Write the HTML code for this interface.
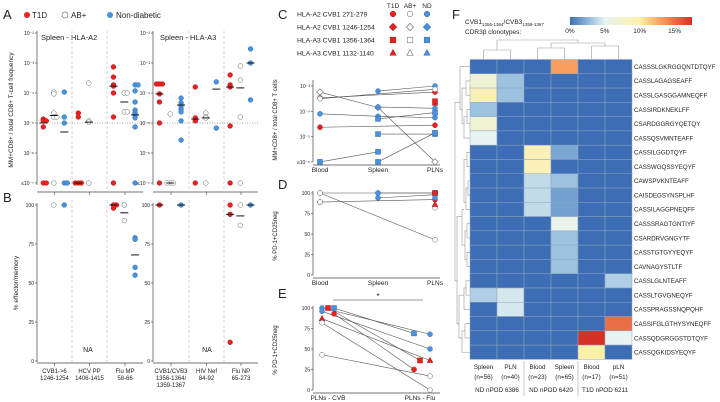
<!DOCTYPE html>
<html><head><meta charset="utf-8"><style>
body{margin:0;background:#fff}
svg{display:block;font-family:"Liberation Sans",sans-serif}
</style></head><body>
<svg id="fig" width="720" height="402" viewBox="0 0 720 402" xmlns="http://www.w3.org/2000/svg">
<g id="static" font-size="7" fill="#222">
<text x="3" y="19" font-size="13">A</text>
<text x="3" y="202" font-size="13">B</text>
<text x="278" y="19" font-size="13">C</text>
<text x="278" y="189" font-size="13">D</text>
<text x="278" y="298" font-size="13">E</text>
<text x="452" y="19" font-size="13">F</text>
<g font-size="8">
<circle cx="27" cy="15" r="3" fill="#e8231f"/><text x="32" y="18">T1D</text>
<circle cx="65" cy="15" r="3" fill="#fff" stroke="#777" stroke-width="0.7"/><text x="71" y="18">AB+</text>
<circle cx="110" cy="15" r="3" fill="#4a92dc"/><text x="116" y="18">Non-diabetic</text>
</g>
<text x="41" y="40" font-size="7.5">Spleen - HLA-A2</text>
<text x="160" y="40" font-size="7.5">Spleen - HLA-A3</text>
<text transform="translate(13,110) rotate(-90)" text-anchor="middle" font-size="6.5">MM+CD8+ / total CD8+ T-cell frequency</text>
<text transform="translate(18,283) rotate(-90)" text-anchor="middle" font-size="6.5">% effector/memory</text>
<text x="88" y="352" text-anchor="middle" font-size="7">NA</text>
<text x="207" y="352" text-anchor="middle" font-size="7">NA</text>
<text transform="translate(277,120) rotate(-90)" text-anchor="middle" font-size="6">MM+CD8+ / total CD8+ T cells</text>
<text transform="translate(277,236) rotate(-90)" text-anchor="middle" font-size="6">% PD-1+CD25neg</text>
<text transform="translate(277,350) rotate(-90)" text-anchor="middle" font-size="6">% PD-1+CD25neg</text>
<text x="465" y="24" font-size="6.5">CVB1<tspan font-size="4.5" dy="2">1356-1364</tspan><tspan dy="-2">/CVB3</tspan><tspan font-size="4.5" dy="2">1359-1367</tspan></text>
<text x="465" y="34" font-size="6.5">CDR3β clonotypes:</text>
</g>
<g id="dyn"></g>
</svg>
<script>
// ---------- Panel A data (log10 exponents; -7 = ≤10^-7) ----------
const aGroups = ["T1D","AB+","ND"];
const a2Values = [
 [[-4.87,-4.93,-4.93,-5.13,-7,-7],[-3.97,-4.03,-4.67,-4.8,-4.8,-7],[-3.97,-4.8,-5.0,-7,-7]],
 [[-4.67,-4.8,-7,-7,-7],[-3.67,-4.93,-4.97,-7],[]],
 [[-3.13,-3.47,-3.73,-3.77,-4.0,-4.8,-7],[-4.0,-4.0,-4.63,-4.63],[-3.73,-3.73,-3.93,-4.3,-4.57,-4.67,-4.73,-4.83,-5.13,-7]]
];
const a2Medians = [[-5.0,-4.75,-5.3],[-7,-4.97,null],[-3.77,-4.3,-4.73]];
const a3Values = [
 [[-3.7,-3.7,-3.7,-4.03,-4.3,-5.0,-7],[-4.7,-7,-7,-7],[-4.17,-4.33,-4.43,-4.53,-4.63,-4.93,-5.57]],
 [[-3.8,-4.83,-4.93,-7],[-4.67,-4.8,-4.83,-7],[-3.63,-5.17]],
 [[-3.4,-3.73,-3.8,-5.1,-7],[-3.1,-3.57,-4.8,-7],[-2.53,-3.0,-4.23]]
];
const a3Medians = [[-4.03,-7,-4.4],[-4.87,-4.83,-3.87],[-3.8,-3.83,-3.0]];
const aTickLabels = ["10⁻²","10⁻³","10⁻⁴","10⁻⁵","10⁻⁶","≤10⁻⁷"];
const aTickValues = [-2,-3,-4,-5,-6,-7];
// ---------- Panel B data (%) ----------
const b2Values = [[[],[100],[100]],[[],[],[]],[[100,100,98],[100,90],[79,78,60,55]]];
const b2Medians = [[null,null,null],[null,null,null],[100,95,68]];
const b3Values = [[[100],[],[100]],[[],[],[]],[[100,94,12],[100,87],[100]]];
const b3Medians = [[100,null,100],[null,null,null],[94,93,100]];
const bTicks = [0,25,50,75,100];
const b2Cats = [["CVB1->6","1246-1254"],["HCV PP","1406-1415"],["Flu MP","58-66"]];
const b3Cats = [["CVB1/CVB3","1356-1364/","1359-1367"],["HIV Nef","84-92"],["Flu NP","65-273"]];
// ---------- Panel C data (log10 exponents; Blood, Spleen, PLNs) ----------
const cCats = ["Blood","Spleen","PLNs"];
const cSeries = [
 {g:"ND",s:"circle",v:[null,-3.2,-3.0]},
 {g:"T1D",s:"circle",v:[-3.47,null,-3.24]},
 {g:"AB+",s:"diamond",v:[-3.24,-3.85,-6]},
 {g:"AB+",s:"circle",v:[-3.5,null,-3.13]},
 {g:"ND",s:"circle",v:[null,-3.83,-3.88]},
 {g:"ND",s:"circle",v:[-4.1,-4.2,-4.25]},
 {g:"T1D",s:"circle",v:[-4.63,null,-4.55]},
 {g:"ND",s:"square",v:[null,-4.9,-4.9]},
 {g:"ND",s:"square",v:[-6,-5.6,null]},
 {g:"ND",s:"square",v:[null,-6,-4.85]},
 {g:"ND",s:"square",v:[null,-4.3,-4.05]},
 {g:"T1D",s:"triangle",v:[null,null,-3.68]},
 {g:"T1D",s:"square",v:[null,null,-3.6]}
];
const cTickLabels = ["10⁻³","10⁻⁴","10⁻⁵","≤10⁻⁶"];
const cTickValues = [-3,-4,-5,-6];
// ---------- Panel D data (%) ----------
const dSeries = [
 {g:"ND",s:"circle",v:[100,100,100]},
 {g:"AB+",s:"circle",v:[100,null,43]},
 {g:"ND",s:"circle",v:[null,100,100]},
 {g:"T1D",s:"circle",v:[89,null,92]},
 {g:"AB+",s:"circle",v:[89,null,null]},
 {g:"ND",s:"circle",v:[null,94,98]},
 {g:"ND",s:"square",v:[null,null,100]},
 {g:"T1D",s:"square",v:[null,null,100]},
 {g:"ND",s:"circle",v:[null,null,94]},
 {g:"AB+",s:"circle",v:[null,null,82]},
 {g:"T1D",s:"triangle",v:[null,null,86]}
];
// ---------- Panel E data (%) ----------
const eCats = ["PLNs - CVB","PLNs - Flu"];
const eSeries = [
 {g:"ND",s:"circle",v:[100,68]},
 {g:"ND",s:"circle",v:[96,50]},
 {g:"ND",s:"square",v:[100,69]},
 {g:"T1D",s:"square",v:[100,36]},
 {g:"T1D",s:"circle",v:[93,25]},
 {g:"T1D",s:"triangle",v:[87,36]},
 {g:"AB+",s:"circle",v:[82,0]},
 {g:"AB+",s:"circle",v:[43,17]}
];
const eOffsets = [[-6,10],[-6,10],[6,-6],[0,0],[6,-6],[-6,10],[-6,10],[-6,10]];
// ---------- Panel F heatmap (% of clonotype) ----------
const fRows = ["CASSSLGKRGGQNTDTQYF","CASSLAGAGSEAFF","CASSLGASGGAMNEQFF","CASSIRDKNEKLFF","CSARDGGRGYQETQY","CASSQSVMNTEAFF","CASSILGGDTQYF","CASSWGQSSYEQYF","CAWSPVKNTEAFF","CAISDEGSYNSPLHF","CASSILAGGPNEQFF","CASSSRAGTGNTIYF","CSARDRVGNGYTF","CASSTGTGYYEQYF","CAVNAGYSTLTF","CASSLGLNTEAFF","CASSLTGVGNEQYF","CASSPRAGSSNQPQHF","CASSIFGLGTHYSYNEQFF","CASSQDGRGGSTDTQYF","CASSQGKIDSYEQYF"];
const fCols = [["Spleen","(n=56)"],["PLN","(n=40)"],["Blood","(n=23)"],["Spleen","(n=65)"],["Blood","(n=17)"],["pLN","(n=51)"]];
const fDonors = ["ND nPOD 6386","ND nPOD 6420","T1D nPOD 6211"];
const fValues = [
 [0,0,0,13,0,0],[7,3,0,0,0,0],[9,3,0,0,0,0],[3,0,0,0,0,0],[7,0,0,0,0,0],[5,0,0,0,0,0],
 [0,0,9,2,0,0],[0,0,9,0,0,0],[0,0,4,3,0,0],[0,0,4,1.8,0,0],[0,0,4,1.8,0,0],[0,0,0,5.5,0,0],
 [0,0,0,3,0,0],[0,0,0,3,0,0],[0,0,0,3,0,0],[0,0,0,0,0,3.5],[3.5,4.5,0,0,0,0],[0,4.5,0,0,0,0],
 [0,0,0,0,0,15],[0,0,0,0,18,5],[0,0,0,0,10,0]
];
const fScaleTicks = [0,5,10,15];

const NS="http://www.w3.org/2000/svg";
const root=document.getElementById('dyn');
function mk(tag,attrs,parent){const e=document.createElementNS(NS,tag);for(const k in attrs)e.setAttribute(k,attrs[k]);(parent||root).appendChild(e);return e;}
function txt(x,y,s,attrs,parent){const e=mk('text',Object.assign({x:x,y:y,'font-size':6.5,fill:'#222'},attrs||{}),parent);e.textContent=s;return e;}
const COL={"T1D":"#e8231f","AB+":"#ffffff","ND":"#4a92dc"};
const STR={"T1D":"#b01010","AB+":"#666","ND":"#2f6fb0"};
function sym(shape,g,x,y,r){
 let e;const f=COL[g],st=STR[g];
 if(shape==="circle")e=mk('circle',{cx:x,cy:y,r:r,fill:f,stroke:st,'stroke-width':0.5});
 else if(shape==="square")e=mk('rect',{x:x-r,y:y-r,width:2*r,height:2*r,fill:f,stroke:st,'stroke-width':0.5});
 else if(shape==="diamond")e=mk('polygon',{points:`${x},${y-r*1.3} ${x+r*1.3},${y} ${x},${y+r*1.3} ${x-r*1.3},${y}`,fill:f,stroke:st,'stroke-width':0.6});
 else e=mk('polygon',{points:`${x},${y-r*1.2} ${x+r*1.1},${y+r*0.8} ${x-r*1.1},${y+r*0.8}`,fill:f,stroke:st,'stroke-width':0.6});
 return e;
}
function yA(e){return 33+(-2-e)*30;}
function yB(v){return 361-v*1.56;}
function dotPanel(ax,sepX,endX,values,medians,yf,isA,tickLabels,tickVals,catLabels){
 mk('line',{x1:ax,y1:isA?31:203,x2:ax,y2:isA?185:362,stroke:'#444','stroke-width':0.7});
 mk('line',{x1:ax,y1:isA?192:363,x2:endX,y2:isA?192:363,stroke:'#444','stroke-width':0.7});
 sepX.forEach(sx=>mk('line',{x1:sx,y1:isA?31:200,x2:sx,y2:isA?192:363,stroke:'#bbb','stroke-width':0.6,'stroke-dasharray':'3,2'}));
 tickVals.forEach((t,i)=>{const y=yf(t);mk('line',{x1:ax-2,y1:y,x2:ax,y2:y,stroke:'#444','stroke-width':0.6});
   const l=txt(ax-3,y+2,tickLabels[i],{'text-anchor':'end','font-size':5});
   });
 const bounds=[ax].concat(sepX).concat([endX]);
 for(let c=0;c<3;c++){
  const x0=bounds[c],w=bounds[c+1]-x0;
  mk('line',{x1:x0+w/2,y1:isA?192:363,x2:x0+w/2,y2:isA?195:366,stroke:'#444','stroke-width':0.6});
  if(catLabels)catLabels[c].forEach((s,k)=>{const l=txt(x0+w/2,373+k*7,s,{'text-anchor':'middle','font-size':6});
    });
  for(let g=0;g<3;g++){
   const cx=x0+w*(0.18+0.3*g);const vals=values[c][g];const cnt={};
   vals.forEach(v=>{const key=v.toFixed(2);cnt[key]=(cnt[key]||0);const off=(cnt[key]%2?1:-1)*Math.ceil(cnt[key]/2)*3;cnt[key]++;
    const d=sym('circle',aGroups[g],cx+off,yf(v),2.4);
     });
   const m=medians[c][g];
   if(m!==null){const ml=mk('line',{x1:cx-4,y1:yf(m),x2:cx+4,y2:yf(m),stroke:'#111','stroke-width':1});
     }
  }
 }
}
dotPanel(37,[72,107],143,a2Values,a2Medians,yA,true,aTickLabels,aTickValues,null);
dotPanel(153,[189,224],258,a3Values,a3Medians,yA,true,aTickLabels,aTickValues,null);
mk('line',{x1:37,y1:yA(-5),x2:258,y2:yA(-5),stroke:'#555','stroke-width':0.6,'stroke-dasharray':'1,1.5'});
dotPanel(37,[72,107],143,b2Values,b2Medians,yB,false,bTicks.map(String),bTicks,b2Cats);
dotPanel(153,[189,224],258,b3Values,b3Medians,yB,false,bTicks.map(String),bTicks,b3Cats);
const legRows=[["HLA-A2 CVB1 271-279","circle"],["HLA-A2 CVB1 1246-1254","diamond"],["HLA-A3 CVB1 1356-1364","square"],["HLA-A3 CVB1 1132-1140","triangle"]];
["T1D","AB+","ND"].forEach((g,j)=>{const l=txt(393+j*17,8,g,{'text-anchor':'middle','font-size':6.5});});
legRows.forEach((r,i)=>{const y=14+i*13;const l=txt(297,y+2.5,r[0],{'font-size':6.8});
 
 ["T1D","AB+","ND"].forEach((g,j)=>sym(r[1],g,393+j*17,y,2.8));});
const cx3=[320,378,435];
function yC(e){return 86+(-3-e)*25.3;}
function yD(v){return 275-v*0.82;}
function yE(v){return 390-v*0.82;}
function linePanel(yf,top,bottom,ticks,tickLabels,series,xs,labels,name){
 mk('line',{x1:313,y1:top,x2:313,y2:bottom,stroke:'#444','stroke-width':0.7});
 mk('line',{x1:313,y1:bottom+3,x2:440,y2:bottom+3,stroke:'#444','stroke-width':0.7});
 ticks.forEach((t,i)=>{const y=yf(t);mk('line',{x1:311,y1:y,x2:313,y2:y,stroke:'#444','stroke-width':0.6});
  const l=txt(310,y+2,tickLabels[i],{'text-anchor':'end','font-size':5});});
 labels.forEach((s,i)=>{const l=txt(xs[i],bottom+10,s,{'text-anchor':'middle','font-size':6.5});});
 series.forEach((s,si)=>{const pts=[];s.v.forEach((v,i)=>{if(v!==null)pts.push([xs[i]+(s.off?s.off[i]:0),yf(v)]);});
  if(pts.length>1){const p=mk('polyline',{points:pts.map(p=>p.join(',')).join(' '),fill:'none',stroke:'#555','stroke-width':0.6});
   }
 });
 series.forEach(s=>{s.v.forEach((v,i)=>{if(v!==null){const d=sym(s.s,s.g,xs[i]+(s.off?s.off[i]:0),yf(v),2.5);
   }});});
}
linePanel(yC,80,162,cTickValues,cTickLabels,cSeries,cx3,cCats,'c');
linePanel(yD,191,275,bTicks,bTicks.map(String),dSeries,cx3,cCats,'d');
eSeries.forEach((s,i)=>s.off=eOffsets[i]);
linePanel(yE,306,390,bTicks,bTicks.map(String),eSeries,[328,420],eCats,'e');
const sig=mk('line',{x1:333,y1:300,x2:423,y2:300,stroke:'#333','stroke-width':0.6});

const star=txt(378,299,'*',{'text-anchor':'middle','font-size':8});
const stops=[[0,[61,109,180]],[2.5,[137,182,219]],[5,[232,244,242]],[10,[253,240,168]],[13,[249,160,96]],[17.5,[215,48,39]]];
function colorOf(v){if(v>=17.5)v=17.5;for(let i=1;i<stops.length;i++){if(v<=stops[i][0]){const a=stops[i-1],b=stops[i],t=(v-a[0])/(b[0]-a[0]);
 return 'rgb('+a[1].map((c,k)=>Math.round(c+(b[1][k]-c)*t)).join(',')+')';}}return 'rgb(215,48,39)';}
const hx0=470,cw=27,hy0=59.5,rh=14.28;
fValues.forEach((row,r)=>row.forEach((v,c)=>{const cell=mk('rect',{x:hx0+c*cw,y:hy0+r*rh,width:cw,height:rh,fill:colorOf(v),stroke:'#8ea4c0','stroke-width':0.5});
 }));
fRows.forEach((s,r)=>{const l=txt(634,hy0+r*rh+rh/2+2.3,s,{'font-size':6.2});});
fCols.forEach((c,i)=>{c.forEach((s,k)=>{const l=txt(hx0+i*cw+cw/2,369+k*10,s,{'text-anchor':'middle','font-size':6.3});});});
fDonors.forEach((s,i)=>{const l=txt(hx0+i*2*cw+cw,392,s,{'text-anchor':'middle','font-size':6.3});});
[1,2].forEach(i=>mk('line',{x1:hx0+i*2*cw,y1:361,x2:hx0+i*2*cw,y2:396,stroke:'#bbb','stroke-width':0.8}));
const defs=mk('defs',{});const lg=mk('linearGradient',{id:'cb',x1:0,x2:1,y1:0,y2:0},defs);
stops.forEach(s=>mk('stop',{offset:(s[0]/17.5),'stop-color':'rgb('+s[1].join(',')+')'},lg));
const cb=mk('rect',{x:570,y:17,width:122,height:8,fill:'url(#cb)'});
fScaleTicks.forEach(t=>{const l=txt(570+t/17.5*122,33,t+'%',{'text-anchor':'middle','font-size':6.5});});
const dg='#999';
function br(x1,y1,x2,y2,h){mk('path',{d:`M${x1},${y1}V${h}H${x2}V${y2}`,fill:'none',stroke:dg,'stroke-width':0.6});}
const cc=i=>hx0+i*cw+cw/2;
br(cc(0),59,cc(1),59,50);br(cc(2),59,cc(3),59,48);br(cc(4),59,cc(5),59,46);
br((cc(2)+cc(3))/2,48,(cc(4)+cc(5))/2,46,43);br((cc(0)+cc(1))/2,50,((cc(2)+cc(3))/2+(cc(4)+cc(5))/2)/2,43,40);
function rc(i){return hy0+i*rh+rh/2;}
function brL(y1,x1,y2,x2,h){mk('path',{d:`M${x1},${y1}H${h}V${y2}H${x2}`,fill:'none',stroke:dg,'stroke-width':0.6});}
brL(rc(1),470,rc(2),470,466);brL(rc(3),470,rc(4),470,467);brL(rc(5),470,(rc(3)+rc(4))/2,467,464);
brL((rc(1)+rc(2))/2,466,(rc(5)+rc(3))/2,464,462);brL(rc(0),470,(rc(1)+rc(5))/2,462,460);
brL(rc(6),470,rc(7),470,467);brL(rc(8),470,rc(9),470,468);brL(rc(10),470,(rc(8)+rc(9))/2,468,466);
brL(rc(11),470,rc(12),470,467);brL(rc(13),470,rc(14),470,467);brL((rc(11)+rc(12))/2,467,(rc(13)+rc(14))/2,467,465);
brL((rc(6)+rc(7))/2,467,(rc(10)+rc(9))/2,466,464);brL((rc(8)+rc(12))/2,464,(rc(12)+rc(13))/2,465,462);
brL(rc(15),470,rc(16),470,466);brL(rc(17),470,(rc(15)+rc(16))/2,466,464);
brL(rc(18),470,rc(19),470,465);brL(rc(20),470,(rc(18)+rc(19))/2,465,462);
brL((rc(15)+rc(17))/2,464,(rc(18)+rc(20))/2,462,459);brL((rc(9)+rc(12))/2,462,(rc(17)+rc(19))/2,459,457);
brL((rc(0)+rc(5))/2,460,(rc(12)+rc(18))/2,457,455);
</script>
</body></html>
